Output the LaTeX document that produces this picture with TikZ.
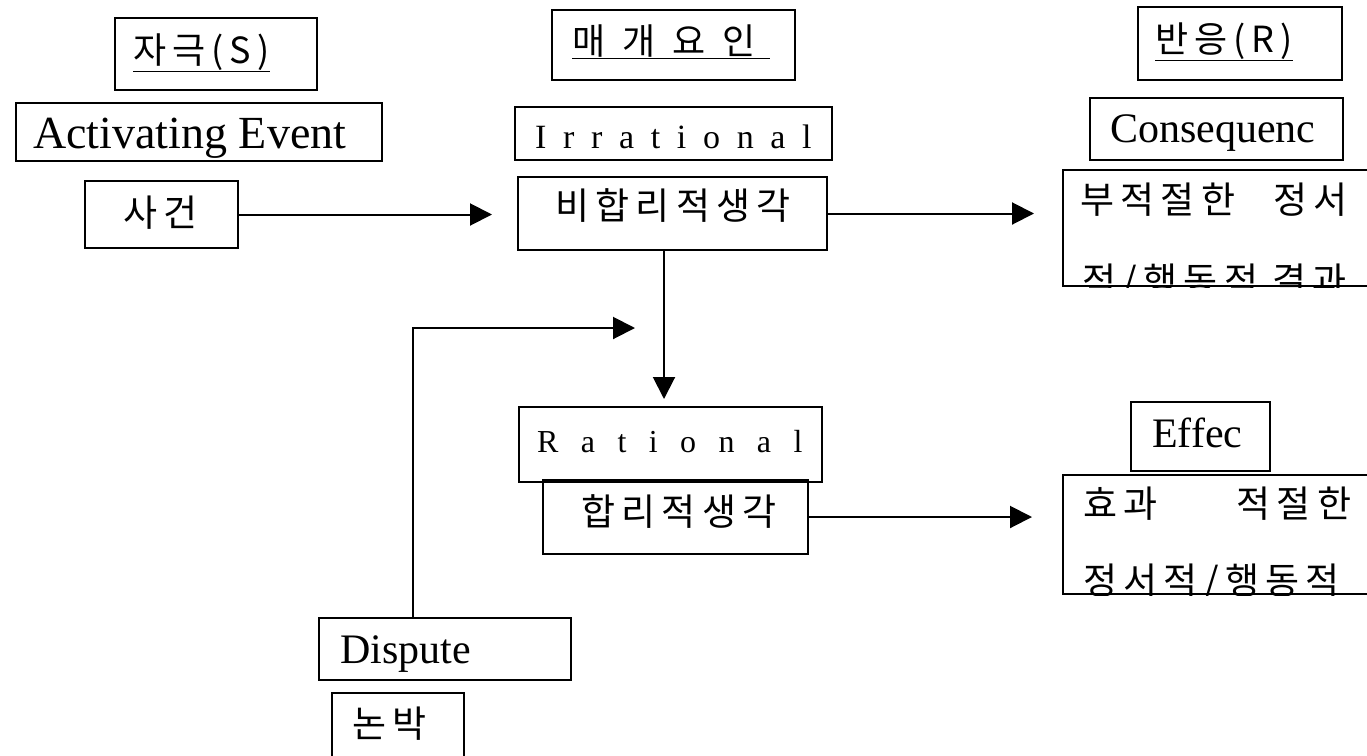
\documentclass[tikz,border=0pt]{standalone}
\usepackage{fontspec}
\setmainfont{Liberation Serif}
\newfontfamily\kr[LetterSpace=17]{Noto Sans CJK KR}
\usetikzlibrary{arrows.meta}

\begin{document}
\begin{tikzpicture}[
    x=1pt, y=-1pt,
    box/.style={rectangle, draw, line width=2pt, inner sep=0pt},
    en/.style={anchor=base west, inner sep=0pt, font=\fontsize{42}{48}\selectfont},
    kr/.style={anchor=base west, inner sep=0pt, font=\kr\fontsize{37}{44}\selectfont},
    head/.style={anchor=base west, inner sep=0pt, font=\kr\fontsize{36}{42}\selectfont},
    arrow/.style={-{Triangle[length=22pt, width=22pt]}, line width=2pt}
]
    \useasboundingbox[fill=white] (0,0) rectangle (1367,755);

% -------------------------
% Stimulus Column
% -------------------------
    \node[box, minimum width=202pt, minimum height=72pt] (s_head) at (216, 54) {};
    \node[head] (s_head_t) at (133, 63) {\underline{자극(S)}};
    \node[box, minimum width=366pt, minimum height=58pt] (s_en) at (199, 132) {};
    \node[en, font=\fontsize{46}{52}\selectfont] (s_en_t) at (33, 148) {Activating Event};
    \node[box, minimum width=153pt, minimum height=67pt] (s_kr) at (161.5, 214.5) {};
    \node[kr] (s_kr_t) at (123, 226) {사건};

% -------------------------
% Mediating Column
% -------------------------
    \node[box, minimum width=243pt, minimum height=70pt] (m_head) at (673.5, 45) {};
    \node[head] (m_head_t) at (572, 54) {\underline{매\hspace{17pt}개\hspace{17pt}요\hspace{17pt}인\hspace{14pt}}};
    \node[box, minimum width=317pt, minimum height=53pt] (m_irr_en) at (673.5, 133.5) {};
    \node[en, font=\fontsize{34}{40}\selectfont] (m_irr_en_t) at (535, 148) {\addfontfeature{LetterSpace=49}Irrational};
    \node[box, minimum width=309pt, minimum height=73pt] (m_irr_kr) at (672.5, 213.5) {};
    \node[kr] (m_irr_kr_t) at (555, 219) {비합리적생각};

    \node[box, minimum width=303pt, minimum height=75pt] (m_rat_en) at (670.5, 444.5) {};
    \node[en, font=\fontsize{32}{38}\selectfont] (m_rat_en_t) at (537, 452) {\addfontfeature{LetterSpace=70}Rational};
    \node[box, minimum width=265pt, minimum height=74pt] (m_rat_kr) at (675.5, 517) {};
    \node[kr] (m_rat_kr_t) at (581, 525) {합리적생각};

% -------------------------
% Response Column
% -------------------------
    \node[box, minimum width=204pt, minimum height=73pt] (r_head) at (1240, 43.5) {};
    \node[head] (r_head_t) at (1155, 52) {\underline{반응(R)}};
    \node[box, minimum width=253pt, minimum height=62pt] (r_con_en) at (1216.5, 129) {};
    \node[en] (r_con_en_t) at (1110, 142) {Consequenc};
    \node[box, minimum width=337pt, minimum height=116pt] (r_con_kr) at (1231.5, 228) {};
    \node[kr] (r_con_kr_t) at (1080, 213) {부적절한\hspace{38pt}정서};
    \begin{scope}
        \clip (r_con_kr.north west) rectangle (r_con_kr.south east);
        \node[kr] (r_con_kr_t2) at (1082, 294) {적/행동적 결과};
    \end{scope}

    \node[box, minimum width=139pt, minimum height=69pt] (r_eff_en) at (1200.5, 436.5) {};
    \node[en] (r_eff_en_t) at (1152, 447) {Effec};
    \node[box, minimum width=337pt, minimum height=119pt] (r_eff_kr) at (1231.5, 534.5) {};
    \node[kr] (r_eff_kr_t) at (1083, 517) {효과\hspace{79pt}적절한};
    \begin{scope}
        \clip (r_eff_kr.north west) rectangle (r_eff_kr.south east);
        \node[kr] (r_eff_kr_t2) at (1083, 594) {정서적/행동적};
    \end{scope}

% -------------------------
% Dispute
% -------------------------
    \node[box, minimum width=252pt, minimum height=62pt] (d_en) at (445, 649) {};
    \node[en] (d_en_t) at (340, 663) {Dispute};
    \node[box, minimum width=132pt, minimum height=87pt] (d_kr) at (398, 736.5) {};
    \node[kr] (d_kr_t) at (352, 737) {논박};

% -------------------------
% Arrows
% -------------------------
    \coordinate (v_line) at (664, 0);
    \coordinate (d_bend) at (413, 328);
    \coordinate (d_tip) at (635, 328);

    \draw[arrow, shorten >=25pt] (s_kr.east) -- (s_kr.east -| m_irr_kr.west);
    \draw[arrow, shorten >=28pt] (m_irr_kr.east) -- (m_irr_kr.east -| r_con_kr.west);
    \draw[arrow, shorten >=7pt] (m_irr_kr.south -| v_line) -- (m_rat_en.north -| v_line);
    \draw[arrow, shorten >=30pt] (m_rat_kr.east) -- (m_rat_kr.east -| r_eff_kr.west);
    \draw[arrow] (d_en.north -| d_bend) |- (d_tip);
\end{tikzpicture}
\end{document}
